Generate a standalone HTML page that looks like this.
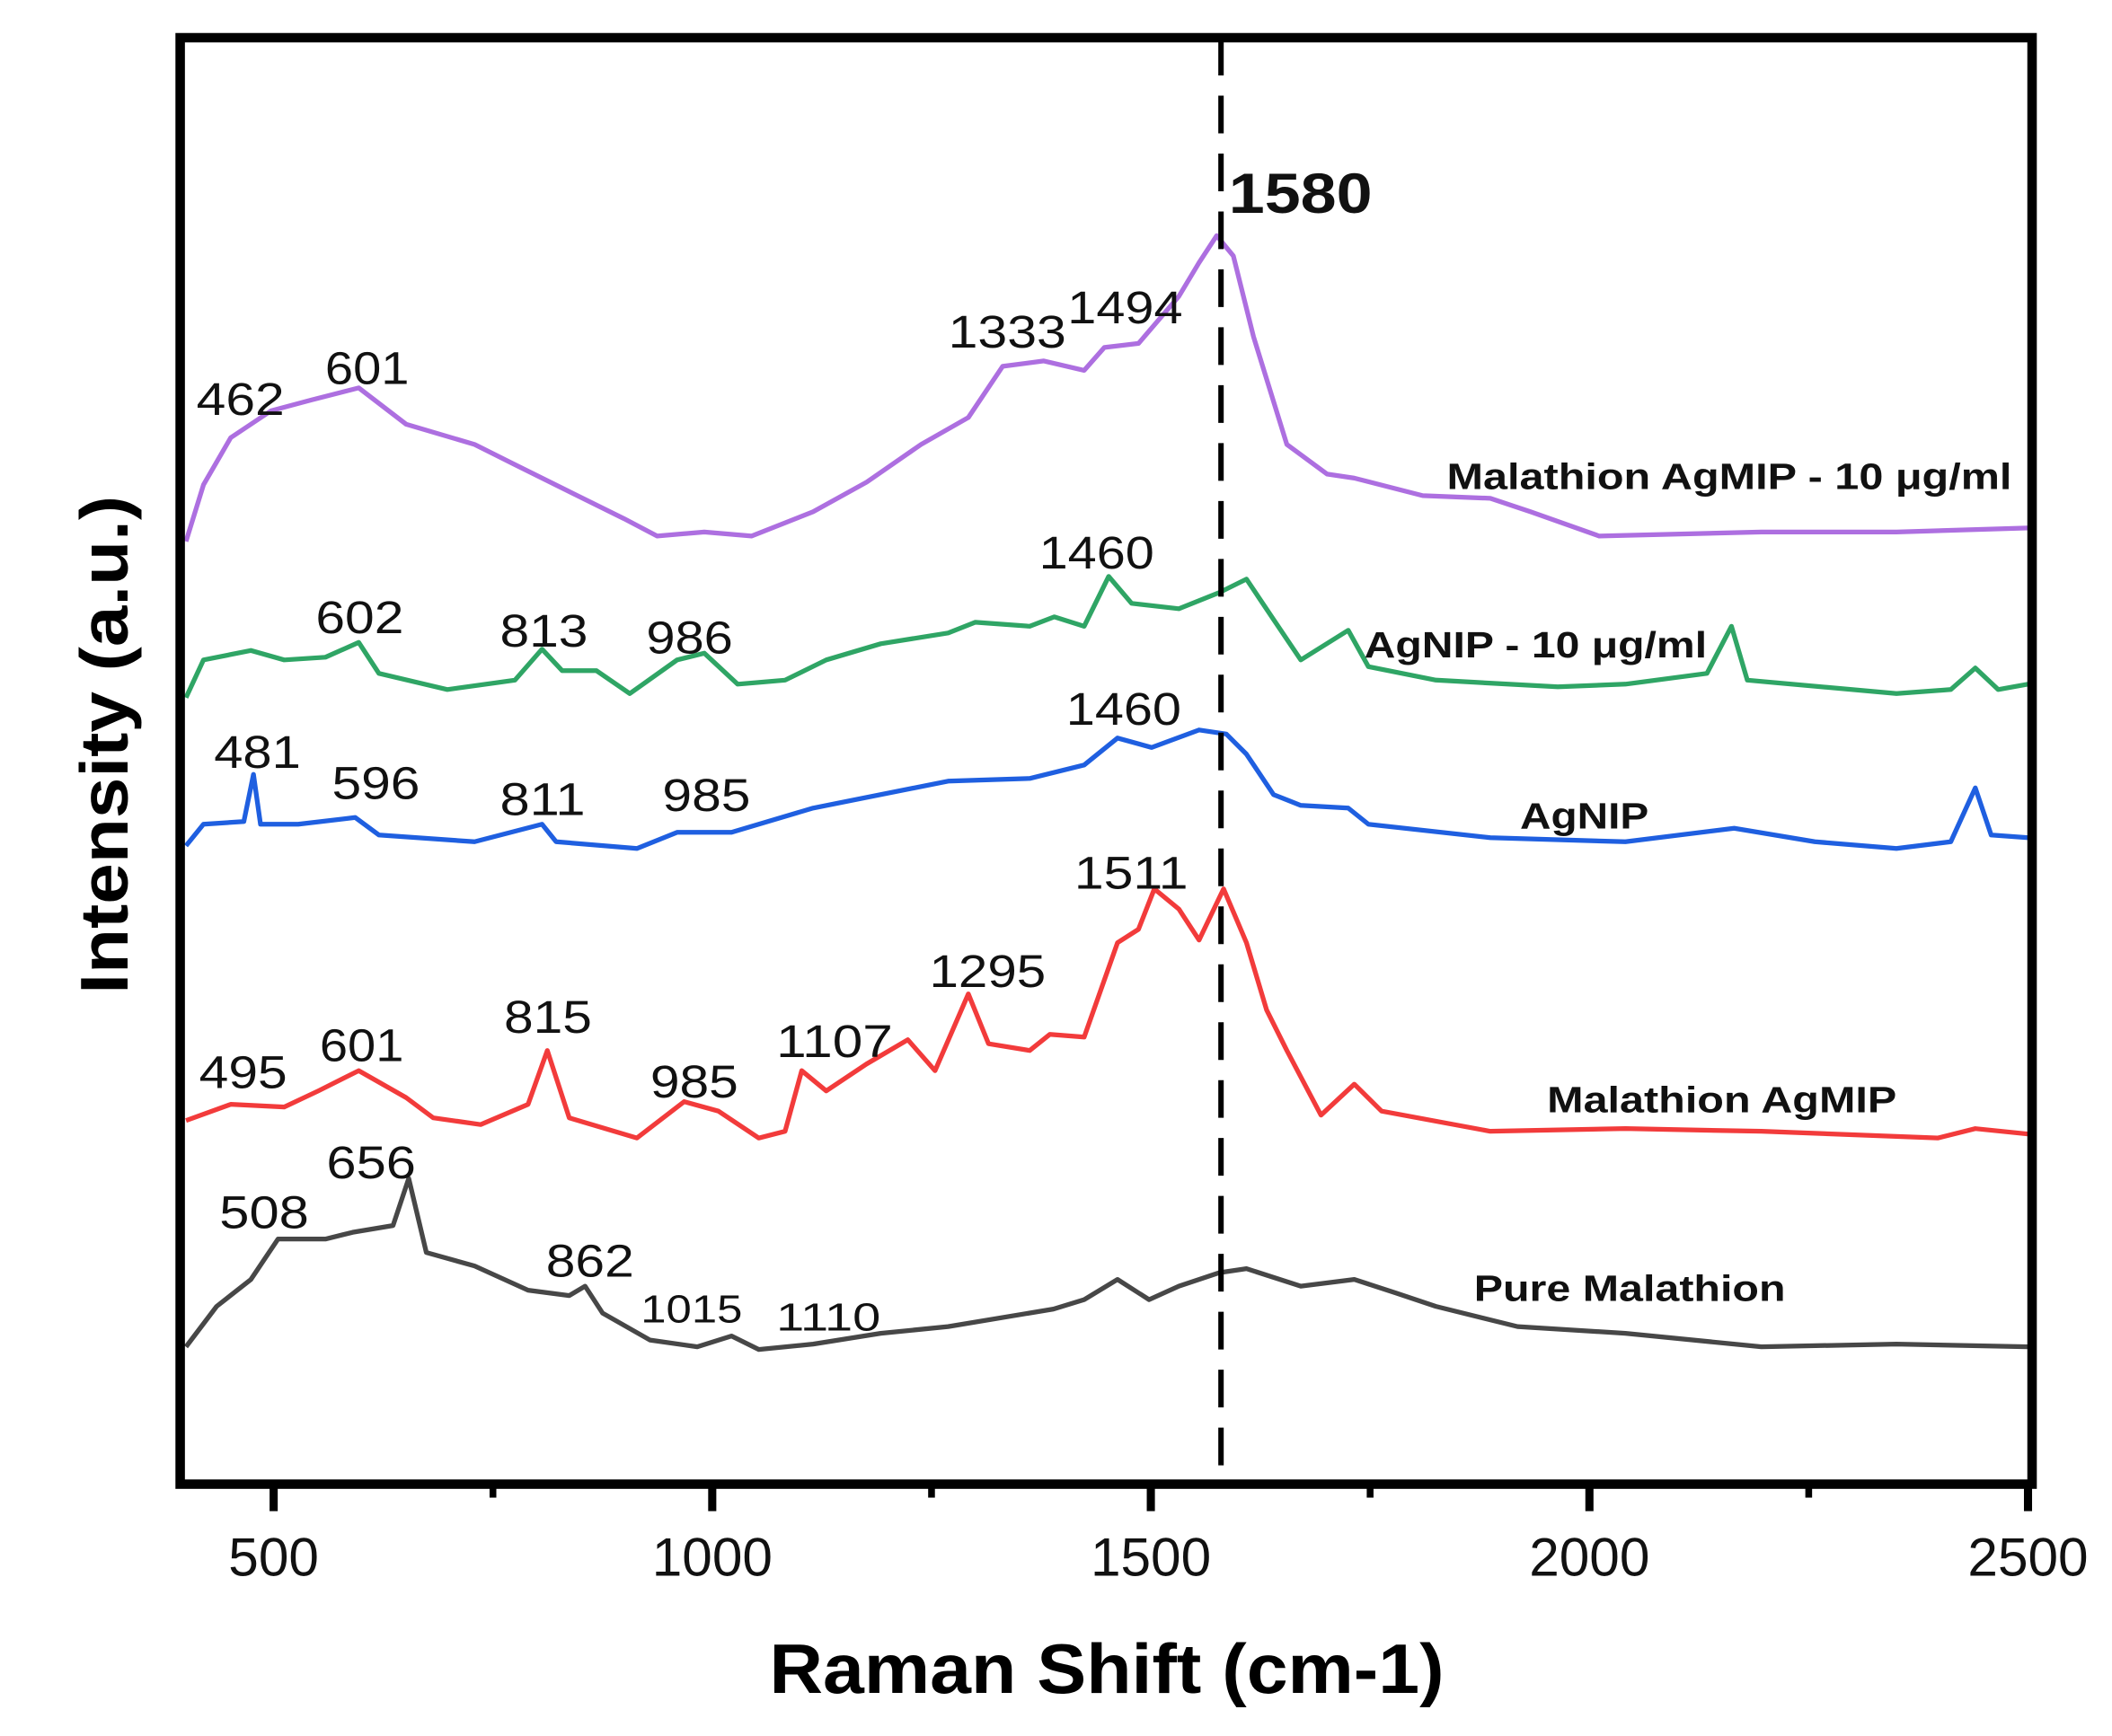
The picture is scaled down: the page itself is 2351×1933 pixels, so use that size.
<!DOCTYPE html>
<html><head><meta charset="utf-8"><style>
html,body{margin:0;padding:0;background:#fff;}
svg{display:block;}
text{font-family:"Liberation Sans",Arial,sans-serif;}
</style></head>
<body>
<svg id="chart" width="2351" height="1933" viewBox="0 0 1559 1289" preserveAspectRatio="none" xmlns="http://www.w3.org/2000/svg">
<g id="plot"></g>
<g id="labels"></g>
</svg>
<script>
// ---- data ----
const purpleX=[400,420,451,497,543,597,651,729,775,837,899,937,991,1045,1115,1176,1238,1292,1331,1378,1424,1447,1486,1532,1555,1575,1594,1617,1655,1701,1732,1810,1887,1933,2011,2196,2350,2500];
const purpleY=[700,742,777,797,805,814,787,772,757,737,717,704,707,704,722,744,772,792,830,834,827,844,847,882,907,927,912,852,772,750,747,734,732,722,704,707,707,710];
const greenX=[400,420,474,512,559,597,620,698,775,806,829,868,906,960,991,1029,1083,1130,1192,1269,1300,1362,1390,1424,1452,1478,1532,1578,1609,1640,1671,1725,1748,1825,1964,2041,2134,2162,2180,2350,2412,2440,2466,2500];
const greenY=[584,612,619,612,614,625,602,590,597,620,604,604,587,612,617,594,597,612,624,632,640,637,644,637,674,654,650,662,672,642,612,634,607,597,592,594,602,637,597,587,590,606,590,594];
const blueX=[400,420,466,477,485,528,593,620,729,806,822,914,960,1022,1115,1269,1362,1424,1462,1501,1555,1586,1609,1640,1671,1725,1748,1887,2041,2165,2257,2350,2412,2440,2458,2500];
const blueY=[474,490,492,527,490,490,495,482,477,490,477,472,484,484,502,522,524,534,554,547,560,557,542,512,504,502,490,480,477,487,477,472,477,517,482,480];
const redX=[400,451,512,551,597,651,682,736,790,812,837,914,968,1007,1053,1083,1102,1130,1176,1223,1254,1292,1315,1362,1385,1424,1462,1486,1504,1532,1555,1583,1609,1632,1655,1694,1732,1763,1887,2041,2196,2397,2440,2500];
const redY=[270,282,280,292,307,287,272,267,282,322,272,257,284,277,257,262,307,292,312,330,307,364,327,322,334,332,402,412,442,427,404,442,402,352,322,274,297,277,262,264,262,257,264,260];
const grayX=[400,435,474,505,559,590,636,654,674,729,790,837,855,875,929,983,1022,1053,1115,1192,1269,1389,1424,1462,1498,1532,1578,1609,1671,1732,1779,1825,1918,2041,2196,2350,2500];
const grayY=[102,132,152,182,182,187,192,227,172,162,144,140,147,127,107,102,110,100,104,112,117,130,137,152,137,147,157,160,147,152,142,132,117,112,102,104,102];
const majorTicks=[500,1000,1500,2000,2500];
const minorTicks=[750,1250,1750,2250];
const markerLine=1580;

// ---- axes ----
const L=133,R=1500,T=28,B=1102;
function xs(v){return 202+(v-500)*0.6475;}
function ys(v){return B-v;}
const NS="http://www.w3.org/2000/svg";
const plot=document.getElementById('plot'), lab=document.getElementById('labels');
function mk(tag,attrs,parent){const e=document.createElementNS(NS,tag);for(const k in attrs)e.setAttribute(k,attrs[k]);parent.appendChild(e);return e;}

function series(xa,ya,color,name){
  let d='';for(let i=0;i<xa.length;i++){d+=(i?'L':'M')+xs(xa[i]).toFixed(1)+' '+ys(ya[i]).toFixed(1);}
  const p=mk('path',{d:d,fill:'none',stroke:color,'stroke-width':3.5,'stroke-linejoin':'round'},plot);
  
  
}
series(purpleX,purpleY,'#ad6fe0','line-malathion-agmip-10');
series(greenX,greenY,'#2fa565','line-agnip-10');
series(blueX,blueY,'#1f5fe0','line-agnip');
series(redX,redY,'#f23b3b','line-malathion-agmip');
series(grayX,grayY,'#474747','line-pure-malathion');

const dl=mk('line',{x1:xs(markerLine),x2:xs(markerLine),y1:T,y2:B,stroke:'#000','stroke-width':4,'stroke-dasharray':'28 15'},plot);



const fr=mk('rect',{x:L,y:T,width:R-L,height:B-T,fill:'none',stroke:'#000','stroke-width':7},plot);



majorTicks.forEach(v=>{
  const t=mk('line',{x1:xs(v),x2:xs(v),y1:B,y2:B+20,stroke:'#000','stroke-width':6},plot);
  
  
  const tl=mk('text',{x:xs(v),y:1170,'font-size':40,'text-anchor':'middle',fill:'#111'},plot);
  tl.textContent=v;
  
  
});
minorTicks.forEach(v=>{
  const t=mk('line',{x1:xs(v),x2:xs(v),y1:B,y2:B+10,stroke:'#000','stroke-width':5},plot);
  
  
});
</script>
<script>
// ---- text annotations ----
const NS2="http://www.w3.org/2000/svg";
const lab2=document.getElementById('labels');
const notes=[
 ["462",145,308,34,65,false],["601",240,285,34,62,false],["1333",700,258,34,87,false],["1494",788,240,34,85,false],
 ["1580",907,158,42,106,true],["Malathion AgMIP - 10 μg/ml",1068,363,27,417,true],
 ["602",233,470,34,65,false],["813",369,480,34,65,false],["986",477,485,34,64,false],["1460",767,422,34,85,false],["AgNIP - 10 μg/ml",1007,488,27,253,true],
 ["481",158,570,34,64,false],["596",245,593,34,65,false],["811",369,605,34,63,false],["985",489,602,34,65,false],["1460",787,538,34,85,false],["AgNIP",1122,615,27,95,true],
 ["1511",793,660,34,84,false],["1295",686,733,34,86,false],["1107",573,785,34,86,false],["815",372,767,34,65,false],["985",480,815,34,65,false],["601",236,788,34,62,false],["495",147,808,34,65,false],["Malathion AgMIP",1142,826,27,258,true],
 ["656",241,875,34,66,false],["508",162,912,34,66,false],["862",403,948,34,65,false],["1015",473,982,29,75,false],["1110",573,988,29,77,false],["Pure Malathion",1088,966,27,230,true]
];
notes.forEach(n=>{
  const t=document.createElementNS(NS2,'text');
  t.setAttribute('x',n[1]);t.setAttribute('y',n[2]);t.setAttribute('font-size',n[3]);
  t.setAttribute('textLength',n[4]);t.setAttribute('lengthAdjust','spacingAndGlyphs');
  if(n[5])t.setAttribute('font-weight','bold');
  t.setAttribute('fill','#111');
  t.textContent=n[0];
  
  
  lab2.appendChild(t);
});
const xt=document.createElementNS(NS2,'text');
xt.setAttribute('x',817);xt.setAttribute('y',1257);xt.setAttribute('font-size',52);xt.setAttribute('font-weight','bold');
xt.setAttribute('text-anchor','middle');xt.setAttribute('textLength',498);xt.setAttribute('lengthAdjust','spacingAndGlyphs');
xt.textContent='Raman Shift (cm-1)';


lab2.appendChild(xt);
const yt=document.createElementNS(NS2,'text');
yt.setAttribute('x',0);yt.setAttribute('y',0);yt.setAttribute('font-size',50);yt.setAttribute('font-weight','bold');
yt.setAttribute('text-anchor','middle');yt.setAttribute('textLength',370);yt.setAttribute('lengthAdjust','spacingAndGlyphs');
yt.setAttribute('transform','translate(94,553) rotate(-90)');
yt.textContent='Intensity (a.u.)';


lab2.appendChild(yt);
</script>
</body></html>
